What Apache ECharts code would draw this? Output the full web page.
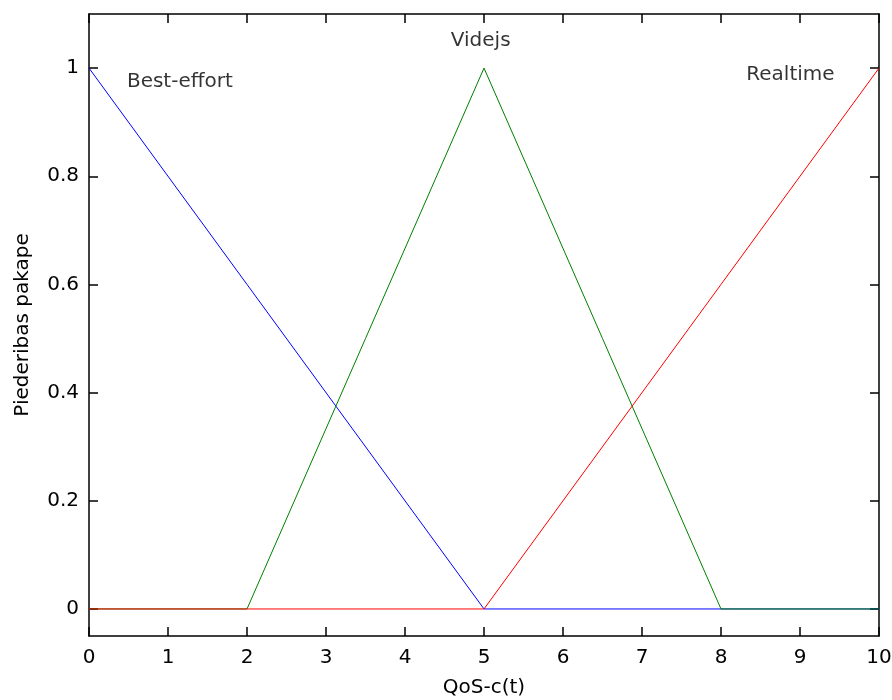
<!DOCTYPE html>
<html>
<head>
<meta charset="utf-8">
<script src="https://cdn.jsdelivr.net/npm/echarts@6/dist/echarts.min.js"></script>
<style>html,body{margin:0;padding:0;background:#fff}#c{width:892px;height:700px}</style>
</head>
<body>
<div id="c"></div>
<script>
const xValues = [0, 2, 5, 8, 10];
const bestEffort = [1, 0.6, 0, 0, 0];
const videjs = [0, 0, 1, 0, 0];
const realtime = [0, 0, 0, 0.6, 1];
const yTicks = [0, 0.2, 0.4, 0.6, 0.8, 1];
const labelNames = ['Best-effort', 'Videjs', 'Realtime'];
const labelX = [0.48, 4.58, 8.32];
const labelY = [0.975, 1.05, 0.987];

const pair = (ys) => xValues.map((x, i) => [x, ys[i]]);
const FONT = 'DejaVu Sans';
const FS = 20;
const LFS = 20;
const tickStyle = (extra) => Object.assign({ show: true, inside: true, length: 9, lineStyle: { color: '#000', width: 1.5 } }, extra || {});
const axisLine = { show: true, onZero: false, lineStyle: { color: '#000', width: 1.5 } };

const chart = echarts.init(document.getElementById('c'));
chart.setOption({
  animation: false,
  backgroundColor: '#fff',
  grid: { left: 89, right: 13, top: 14, bottom: 64, outerBoundsMode: 'none' },
  xAxis: [
    {
      type: 'value', min: 0, max: 10, interval: 1, position: 'bottom',
      name: 'QoS-c(t)', nameLocation: 'middle', nameGap: 42,
      nameTextStyle: { fontFamily: FONT, fontSize: FS, color: '#000' },
      axisLine: axisLine, splitLine: { show: false },
      axisTick: tickStyle(),
      axisLabel: { fontFamily: FONT, fontSize: FS, color: '#000', margin: 12 },
    },
    {
      type: 'value', min: 0, max: 10, interval: 1, position: 'top',
      axisLine: axisLine, splitLine: { show: false },
      axisTick: tickStyle(),
      axisLabel: { show: false },
    },
  ],
  yAxis: [
    {
      type: 'value', min: -0.05, max: 1.1, position: 'left',
      name: 'Piederibas pakape', nameLocation: 'middle', nameGap: 56, nameRotate: 90,
      nameTextStyle: { fontFamily: FONT, fontSize: FS, color: '#000' },
      axisLine: axisLine, splitLine: { show: false },
      axisTick: tickStyle({ customValues: yTicks }),
      axisLabel: { fontFamily: FONT, fontSize: FS, color: '#000', margin: 10, customValues: yTicks,
        formatter: (v) => String(Math.round(v * 10) / 10) },
    },
    {
      type: 'value', min: -0.05, max: 1.1, position: 'right',
      axisLine: axisLine, splitLine: { show: false },
      axisTick: tickStyle({ customValues: yTicks }),
      axisLabel: { show: false },
    },
  ],
  series: [
    { type: 'line', name: 'Best-effort', data: pair(bestEffort), symbol: 'none',
      lineStyle: { color: '#0000ff', width: 1 }, z: 2 },
    { type: 'line', name: 'Videjs', data: pair(videjs), symbol: 'none',
      lineStyle: { color: '#008000', width: 1 }, z: 3 },
    { type: 'line', name: 'Realtime', data: pair(realtime), symbol: 'none',
      lineStyle: { color: '#ff0000', width: 1 }, z: 4 },
    { type: 'scatter', symbolSize: 0, silent: true, z: 5,
      data: labelNames.map((n, i) => ({ name: n, value: [labelX[i], labelY[i]] })),
      label: { show: true, position: 'right', distance: 0, formatter: (p) => p.name,
        fontFamily: FONT, fontSize: LFS, color: '#000' } },
  ],
});
</script>
</body>
</html>
